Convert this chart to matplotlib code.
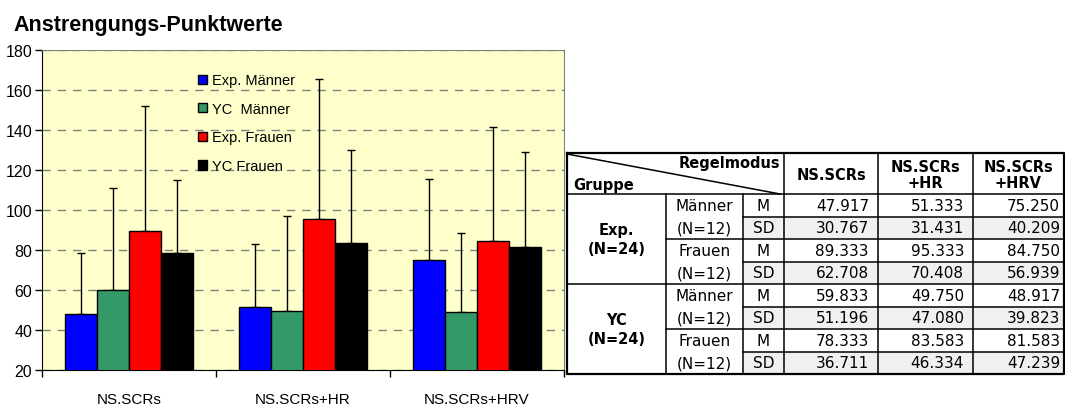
import numpy as np
import matplotlib.pyplot as plt
from matplotlib.patches import Rectangle

plt.rcParams['font.family'] = ['Liberation Sans', 'DejaVu Sans']

W, H = 1065, 406

# data (M and SD per group and control mode)
modes = ['NS.SCRs', 'NS.SCRs+HR', 'NS.SCRs+HRV']
series = ['Exp. Männer', 'YC  Männer', 'Exp. Frauen', 'YC Frauen']
colors = ['#0000ff', '#339966', '#ff0000', '#000000']

exp_m_mean = [47.917, 51.333, 75.250]
exp_m_sd = [30.767, 31.431, 40.209]
exp_f_mean = [89.333, 95.333, 84.750]
exp_f_sd = [62.708, 70.408, 56.939]
yc_m_mean = [59.833, 49.750, 48.917]
yc_m_sd = [51.196, 47.080, 39.823]
yc_f_mean = [78.333, 83.583, 81.583]
yc_f_sd = [36.711, 46.334, 47.239]

bar_means = [exp_m_mean, yc_m_mean, exp_f_mean, yc_f_mean]
bar_sds = [exp_m_sd, yc_m_sd, exp_f_sd, yc_f_sd]

yticks = [20, 40, 60, 80, 100, 120, 140, 160, 180]

fig = plt.figure(figsize=(W / 100, H / 100), dpi=100)
fig.patch.set_facecolor('white')

# ---- chart ----
ax = fig.add_axes([42 / W, 35 / H, 522 / W, 320 / H])
ax.set_facecolor('#ffffcc')
x = np.arange(len(modes))
bw = 0.184
handles = []
for i, (m, s, c) in enumerate(zip(bar_means, bar_sds, colors)):
    xs = x + (i - 1.5) * bw
    b = ax.bar(xs, m, width=bw, bottom=0, color=c, edgecolor='black', linewidth=1, zorder=3)
    handles.append(b)
    ax.errorbar(xs, m, yerr=[np.zeros(len(m)), s], fmt='none', ecolor='black',
                elinewidth=1, capsize=3, capthick=1, zorder=2)

ax.set_xlim(-0.5, 2.5)
ax.set_ylim(20, 180)
ax.set_yticks(yticks)
ax.set_yticklabels([str(v) for v in yticks], fontsize=11.5)
ax.set_xticks([-0.5, 0.5, 1.5, 2.5])
ax.set_xticklabels([])
ax.set_xticks(x, minor=True)
ax.set_xticklabels(modes, minor=True, fontsize=11)
ax.tick_params(axis='x', which='minor', length=0, pad=16)
ax.tick_params(axis='x', which='major', length=5, width=1, direction='out')
ax.tick_params(axis='y', length=5, width=1, direction='out', pad=2)
ax.set_axisbelow(True)
ax.yaxis.grid(True, color='#808080', linestyle=(0, (6, 5)), linewidth=1)
for sp in ['top', 'right']:
    ax.spines[sp].set_color('#808080')
for sp in ['left', 'bottom']:
    ax.spines[sp].set_color('black')

leg = ax.legend(handles, series, loc='upper left', bbox_to_anchor=(0.285, 0.95),
                frameon=False, fontsize=10.5, handlelength=0.6, handleheight=0.6,
                handletextpad=0.35, labelspacing=1.0, borderpad=0)

fig.text(13 / W, 1 - 31 / H, 'Anstrengungs-Punktwerte', fontsize=15.5,
         fontweight='bold', va='baseline', ha='left')

# ---- table ----
tx = fig.add_axes([0, 0, 1, 1], facecolor='none')
tx.set_xlim(0, W)
tx.set_ylim(H, 0)
tx.axis('off')

cols = [567, 666, 743, 784, 878, 973, 1064]
top, hdr = 154, 195
rh = 22.5
rows = [hdr + k * rh for k in range(9)]
lw = 1.1
tfont = ['DejaVu Sans']

tx.add_patch(Rectangle((cols[0], top), cols[-1] - cols[0], rows[-1] - top,
                       facecolor='white', edgecolor='none', zorder=0))
# shade SD rows
for k in [1, 3, 5, 7]:
    tx.add_patch(Rectangle((cols[2], rows[k]), cols[-1] - cols[2], rh,
                           facecolor='#f0f0f0', edgecolor='none', zorder=0))

# outer border
tx.plot([cols[0], cols[-1], cols[-1], cols[0], cols[0]],
        [top, top, rows[-1], rows[-1], top], color='black', lw=1.6)
# header line and vertical lines
tx.plot([cols[0], cols[-1]], [hdr, hdr], color='black', lw=lw)
for c in cols[3:6]:
    tx.plot([c, c], [top, rows[-1]], color='black', lw=lw)
for c in cols[1:3]:
    tx.plot([c, c], [hdr, rows[-1]], color='black', lw=lw)
# group separator
tx.plot([cols[0], cols[-1]], [rows[4], rows[4]], color='black', lw=lw)
# sex separators
for k in [2, 6]:
    tx.plot([cols[1], cols[-1]], [rows[k], rows[k]], color='black', lw=lw)
# M / SD separators
for k in [1, 3, 5, 7]:
    tx.plot([cols[2], cols[-1]], [rows[k], rows[k]], color='black', lw=lw)
# diagonal
tx.plot([cols[0], cols[3] - 4], [top + 1, hdr], color='black', lw=lw)

tx.text(cols[3] - 4, 164, 'Regelmodus', fontsize=10.5, fontweight='bold',
        ha='right', va='center', family=tfont)
tx.text(cols[0] + 6, 186, 'Gruppe', fontsize=10.5, fontweight='bold',
        ha='left', va='center', family=tfont)
col_heads = ['NS.SCRs', 'NS.SCRs\n+HR', 'NS.SCRs\n+HRV']
for j, h in enumerate(col_heads):
    tx.text((cols[3 + j] + cols[4 + j]) / 2, (top + hdr) / 2 + 1, h, fontsize=10.5,
            fontweight='bold', ha='center', va='center', family=tfont, linespacing=1.15)

groups = ['Exp.\n(N=24)', 'YC\n(N=24)']
for g, lab in enumerate(groups):
    tx.text((cols[0] + cols[1]) / 2, (rows[4 * g] + rows[4 * g + 4]) / 2, lab,
            fontsize=10.5, fontweight='bold', ha='center', va='center',
            family=tfont, linespacing=1.35)

table_means = [exp_m_mean, exp_f_mean, yc_m_mean, yc_f_mean]
table_sds = [exp_m_sd, exp_f_sd, yc_m_sd, yc_f_sd]
sex_labels = ['Männer', 'Frauen', 'Männer', 'Frauen']
fs = 11
for r in range(4):
    y_m = (rows[2 * r] + rows[2 * r + 1]) / 2
    y_s = (rows[2 * r + 1] + rows[2 * r + 2]) / 2
    tx.text((cols[1] + cols[2]) / 2, y_m, sex_labels[r], fontsize=fs, ha='center',
            va='center', family=tfont, color='black')
    tx.text((cols[1] + cols[2]) / 2, y_s, '(N=12)', fontsize=fs, ha='center',
            va='center', family=tfont, color='black')
    tx.text((cols[2] + cols[3]) / 2, y_m, 'M', fontsize=fs, ha='center',
            va='center', family=tfont, color='black')
    tx.text((cols[2] + cols[3]) / 2, y_s, 'SD', fontsize=fs, ha='center',
            va='center', family=tfont, color='black')
    for j in range(3):
        xr = cols[4 + j] - 9 if j < 2 else cols[-1] - 4
        tx.text(xr, y_m, f'{table_means[r][j]:.3f}', fontsize=fs, ha='right',
                va='center', family=tfont, color='black')
        tx.text(xr, y_s, f'{table_sds[r][j]:.3f}', fontsize=fs, ha='right',
                va='center', family=tfont, color='black')

fig.savefig('out.png', dpi=100)
